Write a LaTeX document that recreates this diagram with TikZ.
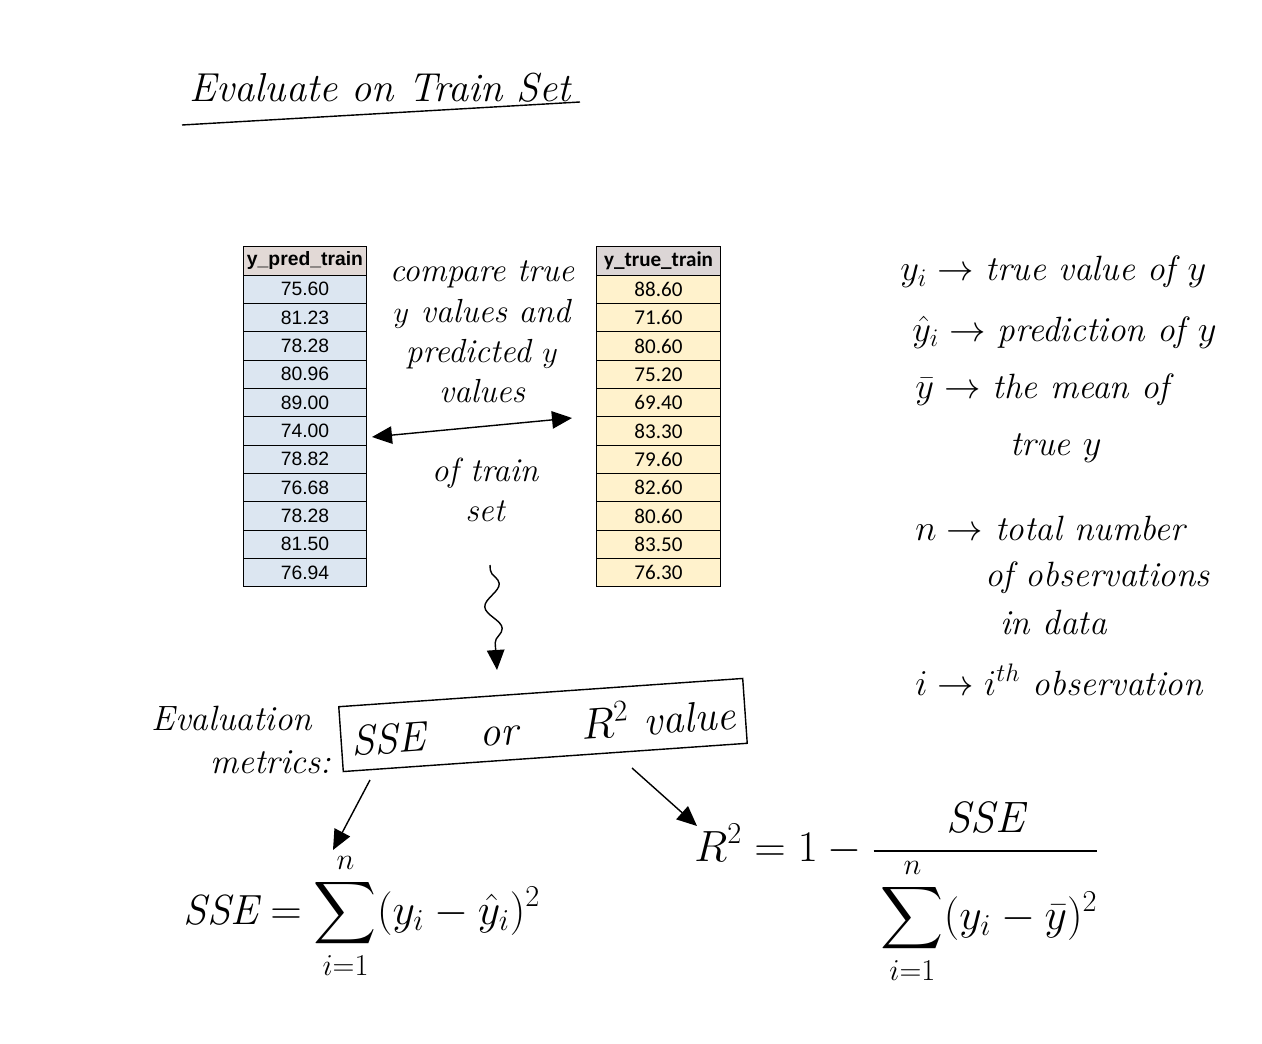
\documentclass[tikz,border=0pt]{standalone}
\usepackage{amsmath}
\usepackage{fontspec}
\usepackage{xcolor}
\usepackage{tikz}
\usetikzlibrary{arrows.meta,positioning,decorations.pathmorphing}
\newfontfamily\arialfont{Liberation Sans}
\newfontfamily\calibrifont{Carlito}
\definecolor{predfill}{HTML}{DCE6F1}
\definecolor{predhead}{HTML}{E2D9D6}
\definecolor{truefill}{HTML}{FFF2CC}
\definecolor{truehead}{HTML}{DCD6D6}

\begin{document}
\begin{tikzpicture}[x=0.02cm, y=-0.02cm,
      celda/.style={rectangle, draw=black, line width=0.6pt, outer sep=0pt, inner sep=0pt,
                    minimum width=2.47cm, minimum height=0.5667cm},
      predcelda/.style={celda, fill=predfill, font=\arialfont\fontsize{11}{13}\selectfont},
      truecelda/.style={celda, fill=truefill, font=\calibrifont\fontsize{12}{14}\selectfont},
      mano/.style={font=\itshape\fontsize{19}{23}\selectfont, align=center, inner sep=0pt},
      ley/.style={mano, font=\itshape\fontsize{20}{24}\selectfont, anchor=west},
      flecha/.style={-{Triangle[length=4mm,width=3.5mm]}, line width=0.8pt},
      dflecha/.style={{Triangle[length=4mm,width=3.5mm]}-{Triangle[length=4mm,width=3.5mm]}, line width=0.8pt}]

    \useasboundingbox (0,0) rectangle (1262,1044);

    % title
    \node[mano, font=\itshape\fontsize{23}{27}\selectfont] (titulo) at (380,88) {Evaluate on Train Set};
    \draw[line width=0.8pt] (182,125) -- (580,102);

    % tables
    \node[predcelda, fill=predhead, font=\arialfont\bfseries\fontsize{11}{13}\selectfont] (ph) at (305,261) {y\_pred\_train};
    \foreach \v [count=\k, remember=\k as \pk (initially h)] in
        {75.60,81.23,78.28,80.96,89.00,74.00,78.82,76.68,78.28,81.50,76.94}
      \node[predcelda, below=0pt of p\pk] (p\k) {\v};

    \node[truecelda, fill=truehead, font=\calibrifont\bfseries\fontsize{12}{14}\selectfont] (th) at (658.5,261) {y\_true\_train};
    \foreach \v [count=\k, remember=\k as \pk (initially h)] in
        {88.60,71.60,80.60,75.20,69.40,83.30,79.60,82.60,80.60,83.50,76.30}
      \node[truecelda, below=0pt of t\pk] (t\k) {\v};

    % compare
    \node[mano] (compara) at (482,332) {compare true\\$y$ values and\\predicted $y$\\values};
    \node[mano] (tren) at (485,490) {of train\\set};
    \coordinate (cmpl) at (372,437);
    \coordinate (cmpr) at (572,418);
    \draw[dflecha] (cmpl) -- (cmpr);

    \coordinate (ondaa) at (490,565);
    \coordinate (ondab) at (497,670);
    \draw[flecha, decorate, decoration={snake, amplitude=1.6mm, segment length=9mm, pre length=1mm, post length=4mm}] (ondaa) -- (ondab);

    % metrics
    \node[mano, font=\itshape\fontsize{20}{24}\selectfont] (evalua) at (232,740) {Evaluation\\\hspace{2.2em}metrics:};
    \node[draw, line width=0.8pt, rotate=4, minimum width=8.1cm, minimum height=1.3cm,
          font=\itshape\fontsize{24}{28}\selectfont] (metrica) at (543,725)
          {SSE\hspace{1.3em}or\hspace{1.5em}$R^2$ value};

    \coordinate (sal1) at (370,780);
    \coordinate (sal2) at (632,768);
    \coordinate (sse) at (333,850);
    \coordinate (rdos) at (697,826);
    \draw[flecha] (sal1) -- (sse);
    \draw[flecha] (sal2) -- (rdos);

    % formulas
    \node[font=\fontsize{24}{29}\selectfont] (fsse) at (362,916)
      {$\displaystyle \mathit{SSE} = \sum_{i=1}^{n}(y_i-\hat{y}_i)^2$};
    \node[font=\fontsize{25}{30}\selectfont] (frdos) at (897,893)
      {$\displaystyle R^2 = 1 - \frac{\mathit{SSE}}{\rule{0pt}{1.5em}\displaystyle\sum_{i=1}^{n}(y_i-\bar{y})^2}$};

    % legend
    \node[ley] (leyi) at (900,272) {$y_i\rightarrow$ true value of $y$};
    \node[ley] (leyhat) at (912,332) {$\hat{y}_i\rightarrow$ prediction of $y$};
    \node[ley] (leybar) at (915,390) {$\bar{y}\rightarrow$ the mean of};
    \node[ley] (leybar2) at (1010,448) {true $y$};
    \node[ley] (leyn) at (915,528) {$n\rightarrow$ total number};
    \node[ley] (leyn2) at (985,578) {of observations};
    \node[ley] (leyn3) at (1000,622) {in data};
    \node[ley] (leyii) at (915,680) {$i\rightarrow i^{th}$ observation};
  \end{tikzpicture}
\end{document}
